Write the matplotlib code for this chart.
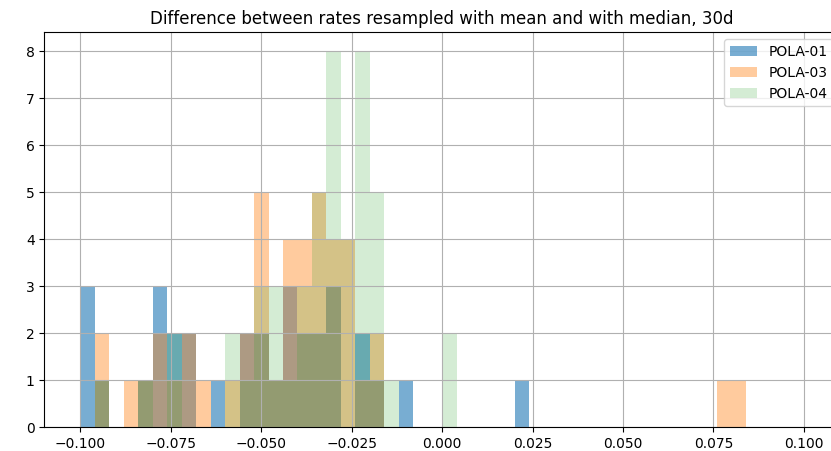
import matplotlib
matplotlib.use("Agg")
import matplotlib.pyplot as plt
import numpy as np


# Histogram bins: 50 bins of width 0.004 between -0.1 and 0.1
BIN_EDGES = np.linspace(-0.1, 0.1, 51)

# Counts per bin for each sensor
pola_01 = [3, 1, 0, 0, 1, 3, 2, 2, 0, 1,
           0, 2, 2, 1, 3, 2, 2, 3, 0, 2,
           1, 0, 1, 0, 0, 0, 0, 0, 0, 0,
           1, 0, 0, 0, 0, 0, 0, 0, 0, 0,
           0, 0, 0, 0, 0, 0, 0, 0, 0, 0]
pola_03 = [0, 2, 0, 1, 1, 2, 1, 2, 1, 0,
           1, 2, 5, 1, 4, 4, 5, 4, 4, 1,
           2, 0, 0, 0, 0, 0, 0, 0, 0, 0,
           0, 0, 0, 0, 0, 0, 0, 0, 0, 0,
           0, 0, 0, 0, 1, 1, 0, 0, 0, 0]
pola_04 = [0, 1, 0, 0, 1, 0, 2, 0, 0, 0,
           2, 1, 3, 3, 1, 3, 5, 8, 4, 8,
           5, 1, 0, 0, 0, 2, 0, 0, 0, 0,
           0, 0, 0, 0, 0, 0, 0, 0, 0, 0,
           0, 0, 0, 0, 0, 0, 0, 0, 0, 0]

series = [("POLA-01", pola_01, 0.6),
          ("POLA-03", pola_03, 0.4),
          ("POLA-04", pola_04, 0.2)]


def plot_diff_hist():
    centers = (BIN_EDGES[:-1] + BIN_EDGES[1:]) / 2

    fig = plt.figure(figsize=(8.31, 4.51), dpi=100)
    ax = fig.add_axes([0.0533, 0.0526, 0.9576, 0.8758])

    for name, counts, alpha in series:
        ax.hist(centers, bins=BIN_EDGES, weights=counts, alpha=alpha, label=name)

    ax.set_xlim(-0.11, 0.11)
    ax.grid(True)
    ax.legend(loc="upper right")
    ax.set_title("Difference between rates resampled with mean and with median, 30d")

    fig.savefig("out.png", dpi=100)
    plt.close(fig)


if __name__ == "__main__":
    plot_diff_hist()
